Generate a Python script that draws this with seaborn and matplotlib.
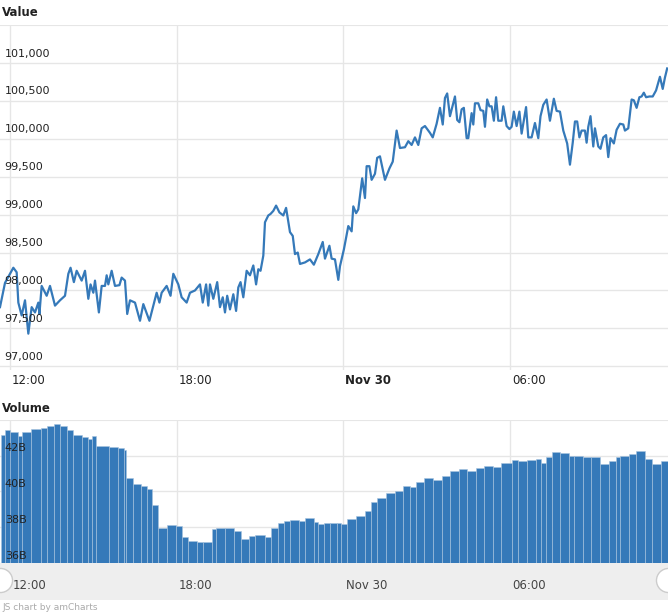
import numpy as np
import pandas as pd
import matplotlib
matplotlib.use("Agg")
import matplotlib.pyplot as plt
import seaborn as sns

plt.rcParams['font.family'] = 'DejaVu Sans'

# hours after 12:00 on Nov 29
PRICE_HOURS = [-0.36, -0.18, 0.12, 0.24, 0.30, 0.42, 0.54, 0.66, 0.78, 0.90, 1.02, 1.06, 1.14, 1.32, 1.44,
               1.62, 1.80, 1.98, 2.10, 2.18, 2.30, 2.40, 2.58, 2.70, 2.82, 2.90, 3.00, 3.06, 3.20, 3.30,
               3.42, 3.48, 3.54, 3.66, 3.78, 3.94, 4.02, 4.14, 4.22, 4.32, 4.50, 4.68, 4.80, 5.02, 5.16,
               5.28, 5.38, 5.46, 5.64, 5.78, 5.88, 6.06, 6.18, 6.36, 6.48, 6.66, 6.84, 6.94, 7.06, 7.14,
               7.20, 7.32, 7.46, 7.56, 7.66, 7.74, 7.82, 7.92, 8.04, 8.14, 8.22, 8.30, 8.40, 8.52, 8.64,
               8.76, 8.86, 8.94, 9.02, 9.12, 9.18, 9.30, 9.38, 9.48, 9.58, 9.70, 9.84, 9.94, 10.08, 10.18,
               10.26, 10.36, 10.44, 10.62, 10.80, 10.94, 11.10, 11.26, 11.34, 11.50, 11.58, 11.70,
               11.82, 11.88, 12.02, 12.18, 12.30, 12.36, 12.46, 12.54, 12.68, 12.78, 12.84, 12.94, 13.02,
               13.14, 13.22, 13.32, 13.50, 13.66, 13.78, 13.92, 14.04, 14.22, 14.34, 14.46, 14.58, 14.70,
               14.82, 14.94, 15.12, 15.22, 15.36, 15.48, 15.58, 15.66, 15.74, 15.84, 16.02, 16.10, 16.18,
               16.26, 16.34, 16.44, 16.50, 16.62, 16.68, 16.74, 16.86, 16.94, 17.04, 17.10, 17.18, 17.26,
               17.34, 17.42, 17.50, 17.58, 17.70, 17.76, 17.88, 17.98, 18.06, 18.14, 18.24, 18.34, 18.42,
               18.58, 18.66, 18.78, 18.90, 19.02, 19.10, 19.20, 19.32, 19.44, 19.58, 19.68, 19.80, 19.92,
               20.06, 20.16, 20.26, 20.34, 20.42, 20.50, 20.58, 20.70, 20.76, 20.82, 20.90, 21.00, 21.06,
               21.18, 21.26, 21.36, 21.46, 21.54, 21.62, 21.74, 21.84, 21.96, 22.08, 22.14, 22.26, 22.38,
               22.46, 22.56, 22.66, 22.74, 22.82, 22.90, 23.02, 23.14, 23.26, 23.40, 23.50, 23.58, 23.66]
PRICE = [97780, 98100, 98300, 98240, 97840, 97670, 97870, 97430, 97780, 97710, 97840, 97690, 98060, 97930, 98060,
         97800, 97870, 97930, 98220, 98300, 98110, 98260, 98130, 98260, 97890, 98080, 97970, 98130, 97710, 98060,
         98060, 98200, 98080, 98260, 98060, 98070, 98170, 98130, 97690, 97870, 97840, 97600, 97820, 97600, 97800,
         97970, 97840, 97970, 98060, 97930, 98220, 98080, 97910, 97840, 97970, 98000, 98080, 97840, 98080, 97800,
         98080, 97890, 98110, 97780, 97910, 97710, 97930, 97750, 97950, 97730, 98040, 98110, 97910, 98260, 98200,
         98330, 98080, 98280, 98260, 98460, 98900, 98990, 99010, 99050, 99120, 99030, 98990, 99090, 98770, 98720,
         98480, 98500, 98350, 98370, 98410, 98340, 98480, 98640, 98420, 98590, 98420, 98410,
         98140, 98320, 98540, 98850, 98780, 99110, 99020, 99070, 99480, 99220, 99640, 99640, 99460,
         99540, 99750, 99770, 99460, 99610, 99700, 100110, 99880, 99890, 99970, 99920, 100020, 99920,
         100140, 100170, 100080, 100020, 100200, 100410, 100190, 100540, 100600, 100300, 100560, 100250, 100220,
         100390, 100410, 100010, 100010, 100340, 100190, 100470, 100470, 100380, 100370, 100160, 100520, 100430,
         100430, 100240, 100550, 100240, 100240, 100430, 100170, 100130, 100160, 100360, 100170, 100360, 100070,
         100420, 100020, 100020, 100210, 100010, 100300, 100450, 100520, 100240, 100530, 100370, 100360, 100110,
         99940, 99660, 99950, 100230, 100230, 100020, 100110, 100110, 99950, 100160, 100300, 99900, 100140,
         99900, 99870, 100020, 100050, 99760, 100010, 99940, 100120, 100200, 100190, 100110, 100140, 100520,
         100510, 100410, 100550, 100560, 100610, 100550, 100560, 100560, 100640, 100820, 100660, 100810, 100930]

VOL_HOURS = [-0.34, -0.18, 0.0, 0.28, 0.43, 0.74, 1.12, 1.35, 1.58, 1.81, 2.04, 2.27, 2.58, 2.81, 2.96,
             3.11, 3.57, 3.88, 4.11, 4.19, 4.42, 4.72, 4.94, 5.12, 5.34, 5.65, 5.96, 6.19, 6.41, 6.72,
             6.94, 7.26, 7.43, 7.74, 8.05, 8.31, 8.62, 8.82, 9.17, 9.40, 9.64, 9.86, 10.09, 10.40, 10.63,
             10.94, 11.09, 11.32, 11.53, 11.78, 11.93, 12.15, 12.45, 12.77, 13.00, 13.23, 13.54, 13.85,
             14.16, 14.39, 14.62, 14.92, 15.23, 15.54, 15.85, 16.15, 16.46, 16.76, 17.07, 17.38, 17.68,
             18.07, 18.30, 18.61, 18.92, 19.13, 19.28, 19.50, 19.81, 20.13, 20.31, 20.62, 20.93, 21.24,
             21.58, 21.81, 21.97, 22.28, 22.54, 22.85, 23.13, 23.43]
VOLUME = [43.17, 43.41, 43.30, 43.07, 43.30, 43.48, 43.54, 43.63, 43.76, 43.63, 43.44, 43.17, 43.04, 42.93, 43.07,
          42.56, 42.48, 42.42, 42.33, 40.76, 40.44, 40.30, 40.11, 39.24, 37.98, 38.11, 38.07, 37.48, 37.24, 37.19,
          37.15, 37.89, 37.93, 37.98, 37.80, 37.33, 37.52, 37.56, 37.43, 37.98, 38.22, 38.33, 38.41, 38.35, 38.50,
          38.30, 38.19, 38.26, 38.22, 38.26, 38.17, 38.44, 38.63, 38.91, 39.41, 39.65, 39.89, 40.02, 40.33,
          40.26, 40.52, 40.76, 40.63, 40.89, 41.13, 41.26, 41.13, 41.31, 41.44, 41.37, 41.59, 41.78, 41.69,
          41.78, 41.81, 41.59, 41.93, 42.19, 42.15, 42.00, 42.00, 41.93, 41.93, 41.56, 41.69, 41.93, 41.96,
          42.11, 42.24, 41.81, 41.56, 41.69]

VALUE_TICKS = [97000, 97500, 98000, 98500, 99000, 99500, 100000, 100500, 101000]
VOL_TICKS = [36, 38, 40, 42]
X_TICKS = [0, 6, 12, 18]
X_LABELS = ["12:00", "18:00", "Nov 30", "06:00"]

LINE = "#3579b9"
GRID = "#e6e6e6"
XMIN, XMAX = -0.36, 23.69

price_df = pd.DataFrame({"hour": PRICE_HOURS, "value": PRICE})
vh = np.array(VOL_HOURS)
widths = np.append(np.diff(vh), XMAX - vh[-1])

fig = plt.figure(figsize=(6.68, 6.12), dpi=100)
ax1 = fig.add_axes([0, 0.395, 1, 0.564])
ax2 = fig.add_axes([0, 0.080, 1, 0.234])
ax3 = fig.add_axes([0, 0.020, 1, 0.060])

sns.lineplot(data=price_df, x="hour", y="value", ax=ax1, color=LINE, linewidth=1.6)
ax1.set_ylim(96947, 101502)
ax2.bar(vh, np.array(VOLUME) - 30, bottom=30, width=widths, align="edge",
        color=LINE, edgecolor="#a9c4df", linewidth=0.4)
ax2.set_ylim(36, 44)

for ax in (ax1, ax2, ax3):
    ax.set_xlim(XMIN, XMAX)
    ax.set_xlabel("")
    ax.set_ylabel("")
    ax.set_xticks(X_TICKS)
    ax.set_xticklabels([])
    ax.tick_params(length=0)
    ax.set_yticklabels([])
    for s in ax.spines.values():
        s.set_visible(False)

ax1.set_yticks(VALUE_TICKS)
ax2.set_yticks(VOL_TICKS)
for ax in (ax1, ax2):
    ax.grid(True, color=GRID, linewidth=1.0)
    ax.set_axisbelow(True)
ax1.axhline(101502, color=GRID, linewidth=1.5)
ax2.axhline(44, color=GRID, linewidth=1.5)

for v in VALUE_TICKS:
    ax1.text(XMIN + 0.17, v + 60, f"{v:,}", fontsize=8, color="#222222", ha="left", va="bottom")
for v in VOL_TICKS:
    ax2.text(XMIN + 0.17, v + 0.12, f"{v}B", fontsize=8, color="#222222", ha="left", va="bottom")

for t, lab in zip(X_TICKS, X_LABELS):
    fig.text((t - XMIN) / (XMAX - XMIN) + 0.003, 1 - 380 / 612, lab, fontsize=8.5, color="#222222",
             ha="left", va="center", fontweight="bold" if lab == "Nov 30" else "normal")
    ax3.text(t + 0.08, 0.4, lab, fontsize=8.5, color="#444444", ha="left", va="center")

ax3.set_facecolor("#eeeeee")
ax3.set_ylim(0, 1)
ax3.grid(False)
ax3.scatter([XMIN, XMAX], [0.55, 0.55], s=300, color="white", edgecolor="#cccccc", zorder=3, clip_on=False)

fig.text(0.003, 1 - 12 / 612, "Value", fontsize=8.5, fontweight="bold", color="#222222", va="center")
fig.text(0.003, 1 - 408 / 612, "Volume", fontsize=8.5, fontweight="bold", color="#222222", va="center")
fig.text(0.003, 0.008, "JS chart by amCharts", fontsize=6.5, color="#aaaaaa", va="center")

fig.savefig("out.png", dpi=100)
